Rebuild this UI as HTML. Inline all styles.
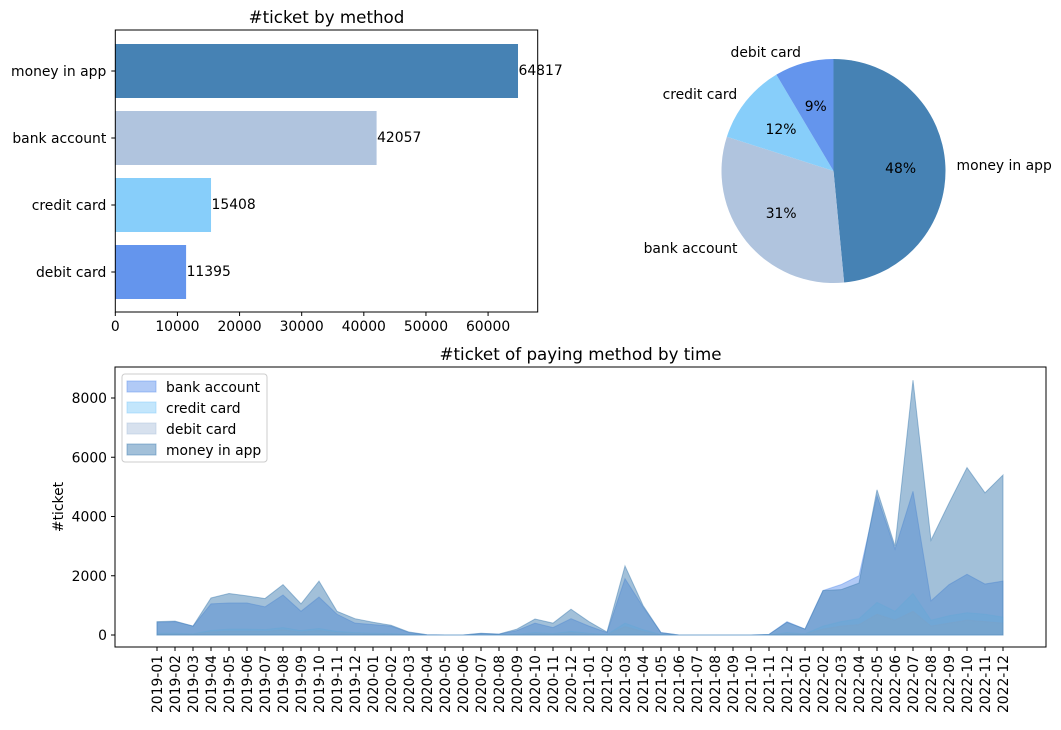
<!DOCTYPE html>
<html><head><meta charset="utf-8"><style>
body{margin:0;background:#fff;}
svg text{font-family:"DejaVu Sans","Liberation Sans",sans-serif;fill:#000;}
</style></head><body>
<svg id="chart" width="1061" height="725" xmlns="http://www.w3.org/2000/svg"></svg>
<script>
const methods = ["money in app","bank account","credit card","debit card"];
const totals = [64817,42057,15408,11395];
const barColors = ["#4682B4","#B0C4DE","#87CEFA","#6495ED"];
const pieColors = ["#4682B4","#B0C4DE","#87CEFA","#6495ED"];
const barTicks = [0,10000,20000,30000,40000,50000,60000];

const months = ["2019-01","2019-02","2019-03","2019-04","2019-05","2019-06","2019-07","2019-08","2019-09","2019-10","2019-11","2019-12","2020-01","2020-02","2020-03","2020-04","2020-05","2020-06","2020-07","2020-08","2020-09","2020-10","2020-11","2020-12","2021-01","2021-02","2021-03","2021-04","2021-05","2021-06","2021-07","2021-08","2021-09","2021-10","2021-11","2021-12","2022-01","2022-02","2022-03","2022-04","2022-05","2022-06","2022-07","2022-08","2022-09","2022-10","2022-11","2022-12"];
const bankAccount = [420,450,300,1050,1080,1080,950,1350,800,1280,700,400,350,300,80,10,0,0,50,30,150,400,250,550,300,80,1900,950,80,0,0,0,0,0,20,450,200,1500,1700,2000,4700,2900,4850,1150,1700,2050,1720,1820];
const creditCard = [60,60,40,150,200,200,180,250,150,220,120,80,60,50,15,0,0,0,10,5,30,80,50,120,60,15,400,180,15,0,0,0,0,0,5,80,40,300,450,550,1100,800,1400,500,650,750,700,600];
const debitCard = [40,40,30,100,130,130,120,170,100,150,80,60,40,35,10,0,0,0,5,5,20,50,35,80,40,10,280,120,10,0,0,0,0,0,3,50,30,200,300,350,700,500,800,300,400,500,450,400];
const moneyInApp = [450,470,300,1250,1400,1320,1230,1700,1050,1820,800,550,430,330,100,10,0,0,60,30,200,540,400,870,450,100,2330,1000,80,0,0,0,0,0,20,430,200,1500,1530,1750,4900,3000,8600,3200,4450,5650,4800,5400];
const areaTicks = [0,2000,4000,6000,8000];

const svg = document.getElementById('chart');
const NS = "http://www.w3.org/2000/svg";
const FS = 13.9, TFS = 16.7;
function el(tag, attrs, parent){const e=document.createElementNS(NS,tag);for(const k in attrs)e.setAttribute(k,attrs[k]);(parent||svg).appendChild(e);return e;}
function txt(s, attrs){const t=el('text',attrs);t.textContent=s;return t;}

// ---- Bar chart ----
const bx0=115.3, bx1=537.7, by0=30, by1=312;
const bxs = v => bx0 + v*6.213/1000;
methods.forEach((m,i)=>{
  const cy = 71 + i*(272-71)/3;
  const r = el('rect',{x:bx0,y:cy-27,width:bxs(totals[i])-bx0,height:54,fill:barColors[i]});
  
  
  const v = txt(String(totals[i]),{x:bxs(totals[i])+0.5,y:cy+4,'font-size':FS});
  
  
  const l = txt(m,{x:bx0-9,y:cy+5,'font-size':FS,'text-anchor':'end'});
  
  
  el('line',{x1:bx0-4,x2:bx0,y1:cy,y2:cy,stroke:'#000'});
});
const bframe = el('rect',{x:bx0,y:by0,width:bx1-bx0,height:by1-by0,fill:'none',stroke:'#000','stroke-width':1});


barTicks.forEach(t=>{
  el('line',{x1:bxs(t),x2:bxs(t),y1:by1,y2:by1+4,stroke:'#000'});
  const l = txt(String(t),{x:bxs(t),y:by1+19,'font-size':FS,'text-anchor':'middle'});
  
  
});
const bt = txt('#ticket by method',{x:(bx0+bx1)/2,y:23,'font-size':TFS,'text-anchor':'middle'});



// ---- Pie chart ----
const pcx=833.5, pcy=171, pr=112;
const sum = totals.reduce((a,b)=>a+b,0);
let ang = 90;
totals.forEach((v,i)=>{
  const sweep = v/sum*360;
  const a0 = ang*Math.PI/180, a1 = (ang-sweep)*Math.PI/180;
  const x0=pcx+pr*Math.cos(a0), y0=pcy-pr*Math.sin(a0);
  const x1=pcx+pr*Math.cos(a1), y1=pcy-pr*Math.sin(a1);
  const p = el('path',{d:`M${pcx},${pcy} L${x0},${y0} A${pr},${pr} 0 ${sweep>180?1:0} 1 ${x1},${y1} Z`,fill:pieColors[i]});
  
  
  const mid = (ang - sweep/2)*Math.PI/180;
  const pl = txt(Math.round(v/sum*100)+'%',{x:pcx+0.6*pr*Math.cos(mid),y:pcy-0.6*pr*Math.sin(mid)+5,'font-size':FS,'text-anchor':'middle'});
  
  
  const lx = pcx+1.1*pr*Math.cos(mid), ly = pcy-1.1*pr*Math.sin(mid);
  const ll = txt(methods[i],{x:lx,y:ly+5,'font-size':FS,'text-anchor':Math.cos(mid)>0?'start':'end'});
  
  
  ang -= sweep;
});

// ---- Area chart ----
const ax0=115, ax1=1046, ay0=367, ay1=647;
const axs = i => 157 + i*(1003-157)/(months.length-1);
const ays = v => 635 - v*(635-398)/8000;
const series = [["bank account",bankAccount,"#6495ED"],["credit card",creditCard,"#87CEFA"],["debit card",debitCard,"#B0C4DE"],["money in app",moneyInApp,"#4682B4"]];
series.forEach(([name,vals,c])=>{
  let d = `M${axs(0)},${ays(0)}`;
  vals.forEach((v,i)=>{d+=` L${axs(i)},${ays(v)}`;});
  d += ` L${axs(vals.length-1)},${ays(0)} Z`;
  const p = el('path',{d,fill:c,'fill-opacity':0.5,stroke:c,'stroke-opacity':0.5,'stroke-width':1});
  
  
});
const aframe = el('rect',{x:ax0,y:ay0,width:ax1-ax0,height:ay1-ay0,fill:'none',stroke:'#000','stroke-width':1});


areaTicks.forEach(t=>{
  el('line',{x1:ax0-4,x2:ax0,y1:ays(t),y2:ays(t),stroke:'#000'});
  const l = txt(String(t),{x:ax0-8,y:ays(t)+5,'font-size':FS,'text-anchor':'end'});
  
  
});
months.forEach((m,i)=>{
  el('line',{x1:axs(i),x2:axs(i),y1:ay1,y2:ay1+4,stroke:'#000'});
  const l = txt(m,{x:0,y:0,'font-size':FS,'text-anchor':'end',transform:`translate(${axs(i)+5},${ay1+8}) rotate(-90)`});
  
  
});
const yl = txt('#ticket',{x:0,y:0,'font-size':FS,'text-anchor':'middle',transform:`translate(63,${(ay0+ay1)/2}) rotate(-90)`});


const at = txt('#ticket of paying method by time',{x:(ax0+ax1)/2,y:360,'font-size':TFS,'text-anchor':'middle'});



// legend
const lg = el('rect',{x:122,y:374,width:145,height:88,rx:3,fill:'#fff','fill-opacity':0.8,stroke:'#ccc'});


series.forEach(([name,,c],i)=>{
  const y = 387 + i*21;
  el('rect',{x:127,y:y-6,width:29,height:11,fill:c,'fill-opacity':0.5,stroke:c,'stroke-opacity':0.5});
  const l = txt(name,{x:166,y:y+5,'font-size':FS});
  
  
});
</script>
</body></html>
